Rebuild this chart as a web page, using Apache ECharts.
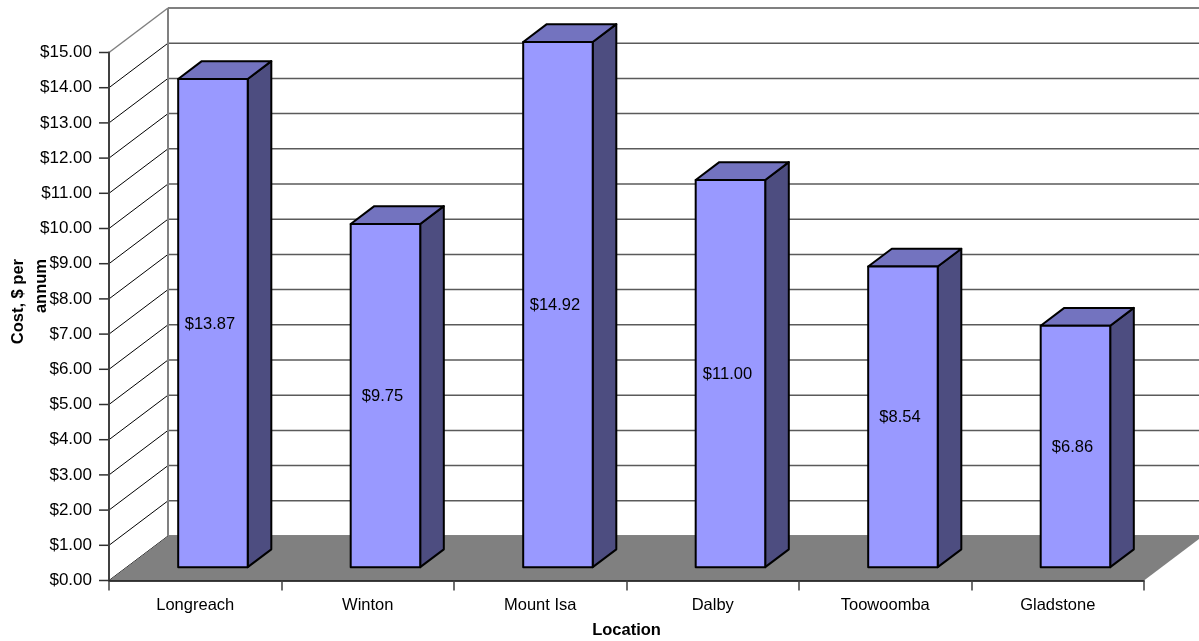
<!DOCTYPE html>
<html>
<head>
<meta charset="utf-8">
<style>html,body{margin:0;padding:0;background:#fff}#chart{width:1199px;height:641px}</style>
<script src="https://cdn.jsdelivr.net/npm/echarts@6/dist/echarts.min.js"></script>
</head>
<body>
<div id="chart"></div>
<script>
// Annual cost per location
const locations = ['Longreach', 'Winton', 'Mount Isa', 'Dalby', 'Toowoomba', 'Gladstone'];
const costs = [13.87, 9.75, 14.92, 11.00, 8.54, 6.86];
const costTicks = [0, 1, 2, 3, 4, 5, 6, 7, 8, 9, 10, 11, 12, 13, 14, 15];

// Oblique projection used for the box look of the plot
const DEPTH_X = 59;
const DEPTH_Y = 44.5;
const BAR_DEPTH_START = 0.3;
const BAR_DEPTH = 0.4;
const BAR_WIDTH = 0.403;
const TICK_LENGTH = 10;

const FONT = '"Liberation Sans", Arial, sans-serif';
const money = v => '$' + v.toFixed(2);

// Outer tick, side-wall line and back-wall line for one axis value
function renderGridline(params, api) {
  const value = api.value(0);
  const band = api.size([1, 0])[0];
  const p = api.coord([0, value]);
  const left = p[0] - band / 2;
  const right = left + band * locations.length;
  const y = p[1];
  const isTop = value === costTicks[costTicks.length - 1];
  return {
    type: 'group',
    children: [
      {
        type: 'line',
        shape: { x1: left - TICK_LENGTH, y1: y, x2: left, y2: y },
        style: { stroke: '#303030', lineWidth: 1.5 }
      },
      {
        type: 'line',
        shape: { x1: left, y1: y, x2: left + DEPTH_X, y2: y - DEPTH_Y },
        style: { stroke: isTop ? '#808080' : '#000', lineWidth: isTop ? 1.5 : 1 }
      },
      {
        type: 'line',
        shape: { x1: left + DEPTH_X, y1: y - DEPTH_Y, x2: right + DEPTH_X, y2: y - DEPTH_Y },
        style: { stroke: isTop ? '#808080' : '#5a5a5a', lineWidth: isTop ? 2 : 1.5 }
      }
    ]
  };
}

// Floor parallelogram and the back-left corner of the walls
function renderFloor(params, api) {
  const band = api.size([1, 0])[0];
  const base = api.coord([0, costTicks[0]]);
  const top = api.coord([0, costTicks[costTicks.length - 1]]);
  const left = base[0] - band / 2;
  const right = left + band * locations.length;
  const y = base[1];
  return {
    type: 'group',
    children: [
      {
        type: 'polygon',
        shape: { points: [[left, y], [left + DEPTH_X, y - DEPTH_Y], [right + DEPTH_X, y - DEPTH_Y], [right, y]] },
        style: { fill: '#808080', stroke: null }
      },
      {
        type: 'line',
        shape: { x1: left + DEPTH_X, y1: top[1] - DEPTH_Y, x2: left + DEPTH_X, y2: y - DEPTH_Y },
        style: { stroke: '#808080', lineWidth: 2 }
      }
    ]
  };
}

// One box: front, top and side faces plus its value label
function renderBar(params, api) {
  const idx = api.value(0);
  const value = api.value(1);
  const band = api.size([1, 0])[0];
  const base = api.coord([idx, 0]);
  const head = api.coord([idx, value]);
  const ox = DEPTH_X * BAR_DEPTH_START;
  const oy = DEPTH_Y * BAR_DEPTH_START;
  const dx = DEPTH_X * BAR_DEPTH;
  const dy = DEPTH_Y * BAR_DEPTH;
  const w = band * BAR_WIDTH;
  const x0 = base[0] - w / 2 + ox;
  const x1 = x0 + w;
  const yb = base[1] - oy;
  const yt = head[1] - oy;
  const edge = { stroke: '#000', lineWidth: 2, lineJoin: 'round' };
  return {
    type: 'group',
    children: [
      {
        type: 'polygon',
        shape: { points: [[x1, yt], [x1 + dx, yt - dy], [x1 + dx, yb - dy], [x1, yb]] },
        style: Object.assign({ fill: '#4D4D80' }, edge)
      },
      {
        type: 'polygon',
        shape: { points: [[x0, yt], [x0 + dx, yt - dy], [x1 + dx, yt - dy], [x1, yt]] },
        style: Object.assign({ fill: '#7373BF' }, edge)
      },
      {
        type: 'rect',
        shape: { x: x0, y: yt, width: w, height: yb - yt },
        style: Object.assign({ fill: '#9999FF' }, edge)
      },
      {
        type: 'text',
        style: {
          x: (x0 + x1) / 2 - 3,
          y: (yt + yb) / 2 + 1,
          text: money(value),
          align: 'center',
          verticalAlign: 'middle',
          fill: '#000',
          font: '16.5px ' + FONT
        }
      }
    ]
  };
}

const chart = echarts.init(document.getElementById('chart'), null, { renderer: 'canvas' });
chart.setOption({
  animation: false,
  backgroundColor: '#fff',
  grid: { left: 109, right: 55, top: 52.5, bottom: 60.5, containLabel: false, outerBoundsMode: 'none' },
  xAxis: {
    type: 'category',
    data: locations,
    z: 10,
    name: 'Location',
    nameLocation: 'middle',
    nameGap: 41,
    nameTextStyle: { fontFamily: FONT, fontSize: 16.5, fontWeight: 'bold', color: '#000' },
    axisLine: { lineStyle: { color: '#000', width: 1.5 } },
    axisTick: { show: true, alignWithLabel: false, length: TICK_LENGTH, lineStyle: { color: '#404040', width: 1.5 } },
    axisLabel: { fontFamily: FONT, fontSize: 16.5, color: '#000', margin: 16 }
  },
  yAxis: {
    type: 'value',
    min: 0,
    max: 15,
    interval: 1,
    z: 10,
    splitLine: { show: false },
    axisLine: { show: true, lineStyle: { color: '#404040', width: 2 } },
    axisTick: { show: false },
    axisLabel: { fontFamily: FONT, fontSize: 17, color: '#000', margin: 17, formatter: money }
  },
  graphic: [{
    type: 'text',
    x: 30,
    y: 259,
    rotation: Math.PI / 2,
    style: {
      text: 'Cost, $ per\nannum',
      align: 'right',
      verticalAlign: 'middle',
      lineHeight: 23,
      fill: '#000',
      font: 'bold 16.5px ' + FONT
    }
  }],
  series: [
    {
      type: 'custom',
      coordinateSystem: 'cartesian2d',
      silent: true,
      z: 1,
      renderItem: renderGridline,
      encode: { y: 0 },
      data: costTicks.map(v => [v])
    },
    {
      type: 'custom',
      coordinateSystem: 'cartesian2d',
      silent: true,
      z: 2,
      renderItem: renderFloor,
      data: [[0]]
    },
    {
      type: 'custom',
      coordinateSystem: 'cartesian2d',
      silent: true,
      z: 3,
      renderItem: renderBar,
      encode: { x: 0, y: 1 },
      data: costs.map((v, i) => [i, v])
    }
  ]
});
</script>
</body>
</html>
